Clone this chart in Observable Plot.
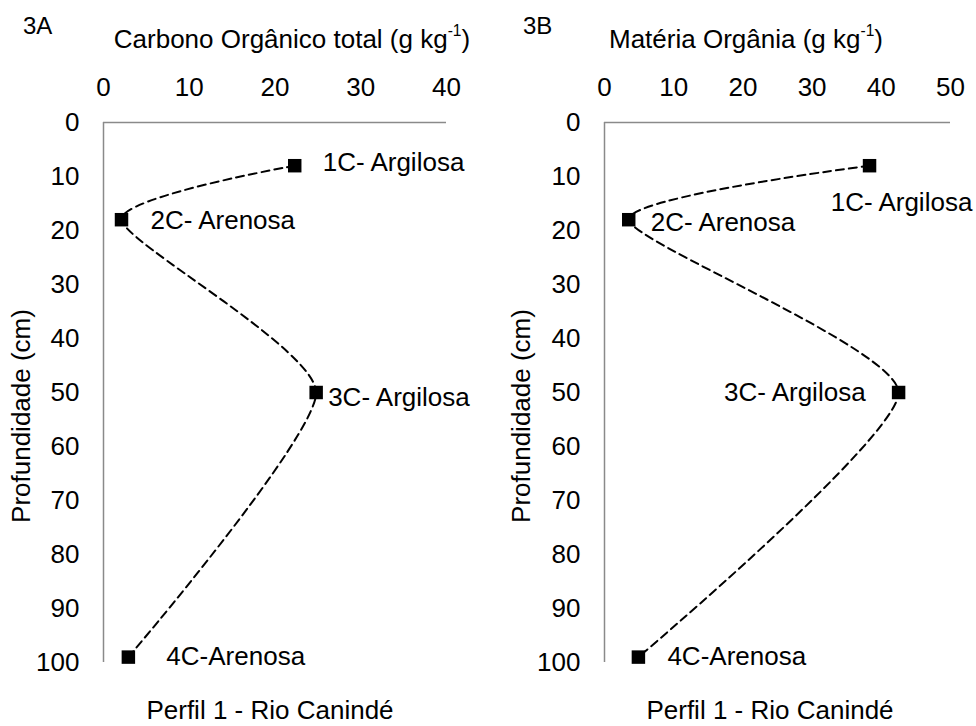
<!DOCTYPE html>
<html><head><meta charset="utf-8">
<script src="https://cdn.jsdelivr.net/npm/d3@7"></script>
<script src="https://cdn.jsdelivr.net/npm/@observablehq/plot@0.6"></script>
<style>
body{margin:0;background:#fff;}
#fig{position:relative;width:976px;height:726px;font-family:"Liberation Sans",Arial,sans-serif;color:#000;overflow:hidden;background:#fff}
.panel{position:absolute;top:0}
.t{position:absolute;white-space:nowrap;line-height:1;font-size:26px}
.c{transform:translateX(-50%)}
.r{transform:translate(-50%,-50%) rotate(-90deg)}
sup{font-size:0.6em;vertical-align:0.75em;line-height:0}
</style></head><body>
<div id="fig"></div>
<script>
// ---- data ----
const horizons = ["1C- Argilosa", "2C- Arenosa", "3C- Argilosa", "4C-Arenosa"];
const depthCm = [8, 18, 50, 99];
const carbonoValues = [22.3, 2.1, 24.8, 2.9];
const materiaValues = [38.3, 3.5, 42.5, 4.9];
const carbonoTicks = [0, 10, 20, 30, 40];
const materiaTicks = [0, 10, 20, 30, 40, 50];
const depthTicks = [0, 10, 20, 30, 40, 50, 60, 70, 80, 90, 100];
const panelLetters = ["3A", "3B"];
const xTitles = ["Carbono Orgânico total (g kg<sup>-1</sup>)", "Matéria Orgânia (g kg<sup>-1</sup>)"];
const yTitle = "Profundidade (cm)";
const caption = "Perfil 1 - Rio Canindé";

// ---- label placement (style) ----
const placeA = [
  {anchor: "start", dx: 28, dy: -3},
  {anchor: "start", dx: 29, dy: 1},
  {anchor: "start", dx: 12, dy: 5},
  {anchor: "start", dx: 38, dy: 0}
];
const placeB = [
  {anchor: "middle", dx: 32, dy: 37},
  {anchor: "start", dx: 22, dy: 3},
  {anchor: "end", dx: -33, dy: 0},
  {anchor: "start", dx: 29, dy: 0}
];

const FONT = '"Liberation Sans", Arial, sans-serif';

function panel(values, xDomain, xTicks, marginLeft, marginRight, place) {
  const data = horizons.map((h, i) => ({h, v: values[i], d: depthCm[i]}));
  return Plot.plot({
    width: 488,
    height: 726,
    marginTop: 122,
    marginBottom: 64,
    marginLeft,
    marginRight,
    style: {fontFamily: FONT, fontSize: "26px", color: "#000", background: "transparent", overflow: "visible"},
    x: {domain: xDomain, ticks: xTicks, axis: "top", tickSize: 0, tickPadding: 27, label: null},
    y: {domain: [0, 100], reverse: true, ticks: depthTicks, tickSize: 0, tickPadding: 24, label: null},
    marks: [
      Plot.ruleY([0], {stroke: "#8a8a8a", strokeWidth: 1.5}),
      Plot.ruleX([0], {stroke: "#8a8a8a", strokeWidth: 1.5}),
      Plot.line(data, {x: "v", y: "d", curve: "cardinal", tension: 0.4, stroke: "#000", strokeWidth: 2, strokeDasharray: "8,5"}),
      Plot.dot(data, {x: "v", y: "d", symbol: "square", r: 7.6, fill: "#000", stroke: "none"}),
      ...data.map((d, i) => Plot.text([d], {
        x: "v", y: "d", text: "h",
        textAnchor: place[i].anchor, dx: place[i].dx, dy: place[i].dy,
        fontSize: 26, fill: "#000"
      }))
    ]
  });
}

const fig = document.getElementById("fig");
const left = panel(carbonoValues, [0, 40], carbonoTicks, 103, 42, placeA);
const right = panel(materiaValues, [0, 50], materiaTicks, 116, 26, placeB);
left.classList.add("panel"); left.style.left = "0px";
right.classList.add("panel"); right.style.left = "488px";
fig.appendChild(left);
fig.appendChild(right);

function addText(html, css, cls) {
  const el = document.createElement("div");
  el.className = "t " + (cls || "");
  el.innerHTML = html;
  Object.assign(el.style, css);
  fig.appendChild(el);
}
// panel letters
addText(panelLetters[0], {left: "23px", top: "14px", fontSize: "24px"});
addText(panelLetters[1], {left: "523px", top: "14px", fontSize: "24px"});
// x titles
addText(xTitles[0], {left: "292px", top: "26px"}, "c");
addText(xTitles[1], {left: "746px", top: "26px"}, "c");
// y titles
addText(yTitle, {left: "21px", top: "416px"}, "r");
addText(yTitle, {left: "521px", top: "416px"}, "r");
// captions
addText(caption, {left: "270px", top: "697px"}, "c");
addText(caption, {left: "770px", top: "697px"}, "c");
</script>
</body></html>
